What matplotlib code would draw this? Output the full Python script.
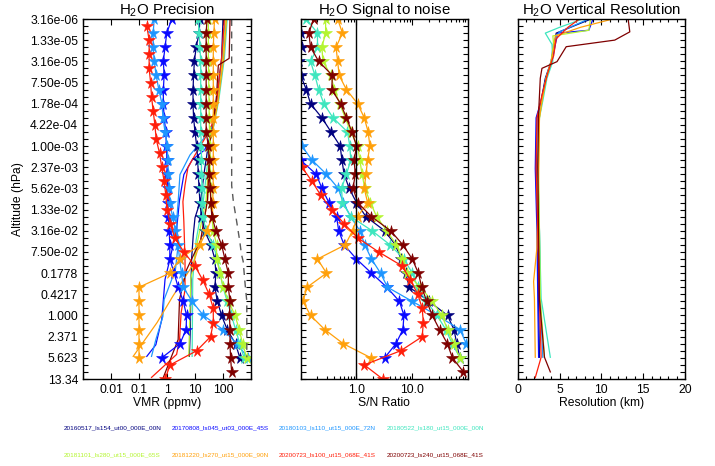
import numpy as np
import matplotlib
matplotlib.use('Agg')
import matplotlib.pyplot as plt
from matplotlib.ticker import FixedLocator, NullFormatter, LogLocator, MultipleLocator

plt.rcParams['font.family'] = ['Liberation Sans', 'DejaVu Sans']
plt.rcParams['mathtext.fontset'] = 'custom'
plt.rcParams['mathtext.rm'] = 'Liberation Sans'

# ---------------- data ----------------
names = ['20160517_ls154_ut00_000E_00N', '20170808_ls045_ut03_000E_45S',
         '20180103_ls110_ut15_000E_72N', '20180522_ls180_ut15_000E_00N',
         '20181101_ls280_ut15_000E_65S', '20181220_ls270_ut15_000E_90N',
         '20200723_ls100_ut15_068E_41S', '20200723_ls240_ut15_068E_41S']
colors = ['#00007f', '#0a0aff', '#1e96ff', '#3ee6be',
          '#b4f530', '#ffa00a', '#ff1e0a', '#7f0000']

# pressure levels (hPa) of the starred profiles
levels_a = [5.62e-06, 1.00e-05, 1.78e-05, 3.16e-05, 5.62e-05, 1.00e-04, 1.78e-04,
            3.16e-04, 5.62e-04, 1.00e-03, 1.78e-03, 3.16e-03, 5.62e-03, 1.00e-02,
            1.78e-02, 3.16e-02, 5.62e-02, 0.100, 0.178, 0.316, 0.562, 1.000,
            1.778, 3.162, 5.623, 10.00]
levels_b = [7.50e-06, 1.33e-05, 2.37e-05, 4.22e-05, 7.50e-05, 1.33e-04, 2.37e-04,
            4.22e-04, 7.50e-04, 1.33e-03, 2.37e-03, 4.22e-03, 7.50e-03, 1.33e-02,
            2.37e-02, 4.22e-02, 7.50e-02, 0.133, 0.237, 0.422, 0.750, 1.334,
            2.371, 4.217, 7.499, 13.34]

# precision (ppmv), starred
prec_stars = [
    [15, 14, 11, 9.5, 8.9, 8.5, 8.5, 8.9, 10, 11.5, 12.6, 13, 14, 15, 17, 22, 37, 51, 56,
     51, 63, 89, 141, 280, 400],
    [1.48, 0.98, 0.85, 0.74, 0.79, 0.74, 0.74, 0.79, 0.91, 0.95, 1.0, 1.0, 1.05, 1.07,
     1.12, 1.2, 1.26, 1.26, 1.8, 2.5, 3.8, 5.0, 4.8, 2.9, 0.65],
    [0.35, 0.32, 0.32, 0.35, 0.41, 0.51, 0.66, 0.72, 0.85, 1.02, 1.07, 1.12, 1.2, 1.26,
     1.58, 2.0, 2.5, 2.8, 3.3, 3.8, 7.9, 20, 100, 310, 790],
    [13, 14, 15, 16, 16, 16, 16, 16, 16, 17, 17, 17, 18, 18, 19, 25, 45, 63, 79, 100,
     141, 200, 282, 398, 562],
    [30, 30, 30, 30, 31, 31, 32, 32, 33, 33, 34, 35, 36, 37, 40, 45, 59, 59, 78, 102,
     158, 270, 380, 500, 710],
    [50, 47, 45, 45, 45, 45, 45, 45, 45, 45, 45, 45, 44, 43, 42, 26, 15, 2.9, 1.26,
     0.1, 0.1, 0.1, 0.1, 0.1, 0.1],
    [0.19, 0.23, 0.23, 0.23, 0.26, 0.28, 0.32, 0.37, 0.41, 0.54, 0.65, 0.79, 0.91, 1.0,
     1.3, 1.9, 4.0, 10, 19, 32, 45, 45, 36, 11.5, 1.3, 0.85],
    [27, 25, 25, 25, 25, 25, 25, 25, 25, 30, 32, 32, 35, 37, 40, 56, 89, 117, 155, 155,
     178, 170, 178, 178, 186, 204],
]

# precision (ppmv), thin lines: pressure vertices and values
prec_line_p = [
    [5.7e-06, 2.8e-05, 1.5e-04, 4.2e-04, 7.8e-04, 2.6e-03, 9.0e-03, 0.0186, 0.037, 0.095, 0.35, 1.78, 5.3],
    [5.7e-06, 2.8e-05, 1.5e-04, 4.2e-04, 7.8e-04, 1.17e-03, 1.76e-03, 3.2e-03, 9.0e-03, 0.030, 0.103, 0.23, 1.18, 3.3, 5.3],
    [5.7e-06, 2.8e-05, 1.5e-04, 4.2e-04, 6.4e-04, 1.44e-03, 3.2e-03, 9.7e-03, 0.022, 0.056, 0.155, 0.52, 1.05, 2.67, 5.3],
    [5.7e-06, 2.8e-05, 1.5e-04, 4.2e-04, 7.8e-04, 9.0e-03, 0.046, 0.23, 5.3],
    [5.7e-06, 2.8e-05, 1.5e-04, 4.2e-04, 7.8e-04, 9.0e-03, 0.046, 0.23, 5.3],
    [5.7e-06, 2.8e-05, 1.5e-04, 4.2e-04, 7.8e-04, 9.0e-03, 0.046, 0.126, 0.46, 1.34, 5.3],
    [5.7e-06, 2.8e-05, 1.5e-04, 4.2e-04, 7.2e-04, 1.44e-03, 2.4e-03, 4.9e-03, 9.7e-03, 0.022, 0.103, 0.35, 0.89, 2.67, 4.9, 12.5],
    [5.7e-06, 2.8e-05, 3.7e-05, 1.25e-04, 4.2e-04, 7.8e-04, 9.0e-03, 0.046, 0.155, 0.52, 2.67, 12.5],
]
prec_line_v = [
    [100, 89, 60, 42, 32, 22, 16, 10, 8.7, 7.6, 7.1, 6.8, 6.3],
    [126, 93, 63, 43, 32, 22, 7.9, 4.0, 2.8, 2.2, 1.26, 0.85, 0.65, 0.4, 0.19],
    [126, 95, 63, 44, 26, 6.6, 2.9, 2.5, 2.2, 2.5, 2.0, 0.79, 0.71, 0.4, 0.28],
    [141, 112, 71, 48, 35, 20, 11, 8.3, 7.9],
    [126, 100, 66, 46, 35, 25, 12.6, 7.1, 6.0],
    [132, 105, 68, 47, 35, 28, 16, 8.5, 1.6, 0.44, 0.062],
    [112, 89, 60, 40, 23, 10, 5.6, 4.4, 3.7, 4.0, 4.4, 4.4, 3.2, 2.8, 2.2, 0.28],
    [178, 166, 68, 59, 45, 35, 28, 16, 5.0, 2.8, 2.5, 0.74],
]

# reference (dashed) curve in the precision panel
ref_p = [5.62e-06, 5.0e-03, 9.5e-03, 0.022, 0.049, 0.083, 0.11, 0.28, 0.56, 5.5]
ref_v = [204, 204, 234, 309, 398, 457, 525, 617, 708, 708]

# signal to noise, starred
sn_start = [0, 0, 8, 0, 0, 0, 9, 0]
sn_stars = [
    [0.089, 0.1, 0.105, 0.095, 0.1, 0.126, 0.15, 0.24, 0.35, 0.51, 0.55, 0.6, 0.74, 1.0,
     1.48, 3.2, 5.0, 6.3, 7.6, 8.9, 20, 43, 56, 63, 71],
    [0.05, 0.05, 0.05, 0.05, 0.05, 0.05, 0.05, 0.05, 0.06, 0.08, 0.1, 0.19, 0.24, 0.32,
     0.44, 0.48, 0.6, 1.0, 1.86, 3.5, 5.9, 7.1, 6.8, 5.1, 3.2],
    [0.08, 0.105, 0.16, 0.29, 0.47, 0.58, 0.79, 1.15, 1.41, 1.86, 2.7, 3.6, 10, 28, 72,
     93, 126],
    [0.126, 0.2, 0.2, 0.15, 0.18, 0.21, 0.26, 0.38, 0.69, 0.76, 0.79, 0.66, 0.54, 0.56,
     0.79, 1.9, 4.0, 7.1, 10, 12.6, 17.8, 28, 40, 52, 72],
    [0.28, 0.28, 0.24, 0.25, 0.35, 0.4, 0.5, 0.63, 0.79, 1.05, 1.15, 1.26, 1.41, 1.78,
     2.3, 3.5, 5.2, 6.6, 7.9, 14, 23, 34, 43, 55, 72],
    [0.46, 0.56, 0.43, 0.46, 0.49, 0.66, 1.05, 1.38, 1.62, 1.74, 1.58, 1.48, 1.38, 1.58,
     1.05, 0.85, 0.63, 0.2, 0.29, 0.13, 0.11, 0.15, 0.27, 0.58, 1.82],
    [0.08, 0.105, 0.16, 0.23, 0.36, 0.6, 1.05, 2.5, 6.6, 9.3, 12.6, 15.1, 15.8, 15.1,
     6.2, 1.38, 2.95],
    [0.17, 0.14, 0.15, 0.21, 0.37, 0.36, 0.52, 0.66, 0.83, 1.0, 0.91, 0.95, 0.87, 1.05,
     1.86, 4.1, 6.8, 10, 12.9, 14.8, 18.2, 22.9, 30.9, 42.7, 52.5, 83],
]

# vertical resolution (km), pressure vertices and values
res_p = [
    [5.6e-06, 1.0e-05, 1.58e-05, 3.16e-05, 6.3e-05, 1.58e-04, 3.16e-04, 2.5e-03, 0.0316, 0.5, 5.5],
    [5.6e-06, 8.9e-06, 1.0e-05, 1.58e-05, 3.16e-05, 6.3e-05, 1.58e-04, 3.16e-04, 2.5e-03, 0.0316, 0.5, 5.5],
    [5.6e-06, 9.5e-06, 1.41e-05, 3.16e-05, 6.3e-05, 1.58e-04, 3.16e-04, 2.5e-03, 0.0316, 0.5, 5.5],
    [5.6e-06, 7.9e-06, 1.0e-05, 1.58e-05, 3.16e-05, 6.3e-05, 1.58e-04, 3.16e-04, 2.5e-03, 0.0316, 0.5, 5.5],
    [5.6e-06, 8.9e-06, 1.12e-05, 1.58e-05, 3.16e-05, 6.3e-05, 1.58e-04, 3.16e-04, 2.5e-03, 0.0316, 0.5, 5.5],
    [5.6e-06, 7.9e-06, 1.12e-05, 1.78e-05, 3.16e-05, 6.3e-05, 1.58e-04, 3.16e-04, 2.5e-03, 0.063, 0.25, 0.5, 5.5],
    [5.6e-06, 7.9e-06, 1.26e-05, 2.5e-05, 5.0e-05, 1.26e-04, 3.16e-04, 2.5e-03, 0.0316, 0.5, 5.5, 12.6],
    [5.6e-06, 9.5e-06, 1.33e-05, 1.74e-05, 3.2e-05, 4.2e-05, 6.3e-05, 2.6e-04, 2.3e-03, 0.035, 0.52, 5.5, 10],
]
res_v = [
    [8.8, 4.6, 4.4, 4.0, 3.3, 2.8, 2.3, 2.2, 2.4, 2.5, 2.6],
    [9.0, 8.5, 4.8, 4.5, 4.1, 3.4, 2.8, 2.2, 2.1, 2.3, 2.4, 2.5],
    [8.5, 5.0, 4.3, 4.0, 3.4, 2.9, 2.5, 2.4, 2.6, 2.7, 3.0],
    [7.8, 5.0, 3.3, 4.1, 4.2, 3.5, 3.0, 2.6, 2.4, 2.6, 2.8, 3.9],
    [8.7, 8.5, 4.2, 4.3, 4.0, 3.4, 2.9, 2.6, 2.5, 2.6, 2.7, 3.2],
    [11.4, 7.5, 4.5, 4.3, 4.0, 3.4, 2.9, 2.6, 2.5, 2.3, 1.9, 2.0, 2.1],
    [7.4, 6.0, 4.6, 4.3, 3.6, 2.9, 2.3, 2.2, 2.4, 2.6, 2.8, 2.1],
    [13.2, 13.4, 11.6, 5.8, 4.7, 2.9, 2.7, 2.5, 2.4, 2.5, 2.6, 3.2, 3.9],
]

ytick_labels = ['3.16e-06', '1.33e-05', '3.16e-05', '7.50e-05', '1.78e-04', '4.22e-04',
                '1.00e-03', '2.37e-03', '5.62e-03', '1.33e-02', '3.16e-02', '7.50e-02',
                '0.1778', '0.4217', '1.000', '2.371', '5.623', '13.34']

# ---------------- plot ----------------
W, H = 715, 466
fig = plt.figure(figsize=(W / 100, H / 100), dpi=100)

def box(x0, x1, y0, y1):
    return [x0 / W, 1 - y1 / H, (x1 - x0) / W, (y1 - y0) / H]

ax1 = fig.add_axes(box(83, 251, 19, 379))
ax2 = fig.add_axes(box(300.7, 468, 19, 379))
ax3 = fig.add_axes(box(517.7, 685, 19, 379))

ymajor = 10 ** (-5.25 + 0.375 * np.arange(18))
yminor = 10 ** (-5.25 + 0.125 * np.arange(52))

for ax in (ax1, ax2, ax3):
    ax.set_yscale('log')
    ax.set_ylim(10 ** 1.125, 10 ** -5.25)
    ax.yaxis.set_major_locator(FixedLocator(ymajor))
    ax.yaxis.set_minor_locator(FixedLocator(yminor))
    ax.yaxis.set_minor_formatter(NullFormatter())
    ax.tick_params(which='both', direction='in', top=True, right=True, width=0.8)
    ax.tick_params(which='major', length=4.5)
    ax.tick_params(which='minor', length=2.5)
    ax.tick_params(axis='y', which='both', length=3.5)
    for s in ax.spines.values():
        s.set_linewidth(1.0)

ax1.set_yticklabels(ytick_labels, fontsize=8.7)
ax2.set_yticklabels([])
ax3.set_yticklabels([])

star_kw = dict(marker='*', ms=8.5, lw=0.9, mew=0.4)

# panel 1: precision
for i in range(8):
    ax1.plot(prec_line_v[i], prec_line_p[i], color=colors[i], lw=0.9)
for i in range(8):
    lev = levels_b if i == 6 else levels_a
    ax1.plot(prec_stars[i], lev[:len(prec_stars[i])], color=colors[i],
             mec=colors[i], **star_kw)
ax1.plot(ref_v, ref_p, color='0.35', lw=1.0, ls=(0, (5, 4)))
ax1.set_xscale('log')
ax1.set_xlim(1e-3, 1e3)
ax1.set_xticks([1e-3, 1e-2, 1e-1, 1, 10, 100, 1e3])
ax1.set_xticklabels(['', '0.01', '0.1', '1', '10', '100', ''], fontsize=8.7)
ax1.xaxis.set_minor_locator(LogLocator(subs=np.arange(2, 10)))
ax1.xaxis.set_minor_formatter(NullFormatter())
ax1.set_xlabel('VMR (ppmv)', fontsize=8.7, labelpad=1)
ax1.set_ylabel('Altitude (hPa)', fontsize=8.7, labelpad=4)
ax1.set_title('H$_2$O Precision', fontsize=10.8, pad=3)

# panel 2: signal to noise
for i in range(8):
    lev = levels_b if i == 6 else levels_a
    k0 = sn_start[i]
    ax2.plot(sn_stars[i], lev[k0:k0 + len(sn_stars[i])], color=colors[i],
             mec=colors[i], **star_kw)
ax2.axvline(1.0, color='black', lw=1.0)
ax2.set_xscale('log')
ax2.set_xlim(0.1, 100)
ax2.set_xticks([0.1, 1, 10, 100])
ax2.set_xticklabels(['', '1.0', '10.0', ''], fontsize=8.7)
ax2.xaxis.set_minor_locator(LogLocator(subs=np.arange(2, 10)))
ax2.xaxis.set_minor_formatter(NullFormatter())
ax2.set_xlabel('S/N Ratio', fontsize=8.7, labelpad=1)
ax2.set_title('H$_2$O Signal to noise', fontsize=10.8, pad=3)

# panel 3: vertical resolution
for i in range(8):
    ax3.plot(res_v[i], res_p[i], color=colors[i], lw=0.9)
ax3.set_xlim(0, 20)
ax3.set_xticks([0, 5, 10, 15, 20])
ax3.set_xticklabels(['0', '5', '10', '15', '20'], fontsize=8.7)
ax3.xaxis.set_minor_locator(MultipleLocator(1))
ax3.set_xlabel('Resolution (km)', fontsize=8.7, labelpad=1)
ax3.set_title('H$_2$O Vertical Resolution', fontsize=10.8, pad=3)

# legend as coloured text
leg_x = [64, 172, 279, 387]
leg_y = [428, 455]
for i, name in enumerate(names):
    fig.text(leg_x[i % 4] / W, 1 - leg_y[i // 4] / H, name, color=colors[i],
             fontsize=4.6, ha='left', va='center')

fig.savefig('out.png', dpi=100)
